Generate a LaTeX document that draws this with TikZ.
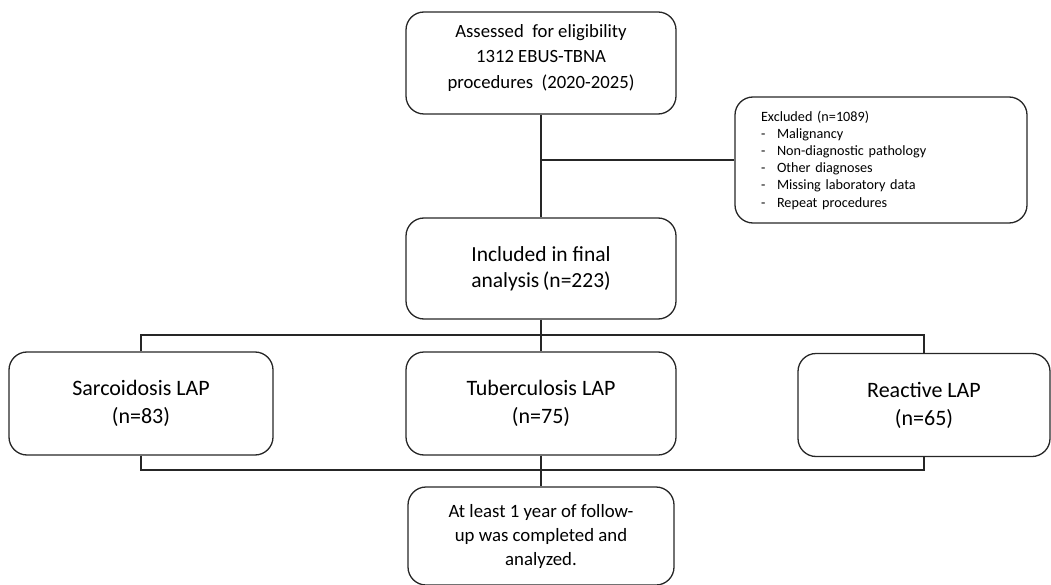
\documentclass[tikz,border=0pt]{standalone}
\usepackage{fontspec}
\setmainfont{Carlito}
\usepackage{tikz}
\usetikzlibrary{positioning}
\newcommand{\boxcolor}{black!85}
\newcommand{\dashitem}[1]{\makebox[16pt][l]{-}#1}

\begin{document}
\begin{tikzpicture}[
      % GLOBAL CFG
      x=1pt, y=-1pt,
      % Styles
      stage/.style={% For the flow boxes
        rectangle,
        rounded corners=18pt,
        draw=\boxcolor,
        line width=1.3pt,
        align=center,
        inner sep=2pt
      },
      excl/.style={% For the excluded list
        rectangle,
        rounded corners=18pt,
        draw=\boxcolor,
        line width=1.3pt,
        align=left,
        text width=240pt,
        inner xsep=26pt,
        font=\fontsize{14.2}{17.2}\selectfont
      },
      link/.style={% Plain connectors
        line width=1.3pt,
        draw=\boxcolor
      }
      ]

      \useasboundingbox (0,0) rectangle (1051,585);

      % Top of the chart
      \node [stage, minimum width=270pt, minimum height=102pt, text depth=13pt,
        font=\fontsize{18.7}{25.5}\selectfont] (assessed) at (541,63)
        {Assessed\ \ for eligibility\\1312 EBUS-TBNA\\procedures\ \ (2020-2025)};
      \node [excl, minimum height=126pt] (excluded) at (881,160)
        {Excluded (n=1089)\\\dashitem{Malignancy}\\\dashitem{Non-diagnostic pathology}\\
         \dashitem{Other diagnoses}\\\dashitem{Missing laboratory data}\\\dashitem{Repeat procedures}};
      \node [stage, minimum width=270pt, minimum height=101pt,
        font=\fontsize{21.5}{26}\selectfont] (included) at (541,268.5)
        {Included in final\\analysis\,(n=223)};

      % The three groups
      \node [stage, minimum width=264pt, minimum height=103pt,
        font=\fontsize{22}{28}\selectfont] (sarcoid) at (141,403.5)
        {Sarcoidosis LAP\\(n=83)};
      \node [stage, minimum width=270pt, minimum height=103pt,
        font=\fontsize{22}{28}\selectfont] (tuber) at (541,403.5)
        {Tuberculosis LAP\\(n=75)};
      \node [stage, minimum width=252pt, minimum height=103pt,
        font=\fontsize{22}{28}\selectfont] (reactive) at (924,405)
        {Reactive LAP\\(n=65)};

      % Follow-up
      \node [stage, minimum width=266pt, minimum height=98pt,
        font=\fontsize{18.8}{24}\selectfont] (followup) at (541,536)
        {At least 1 year of follow-\\up was completed and\\analyzed.};

      \coordinate (split) at (541,335);
      \coordinate (merge) at (541,470);

      % Connectors
      \draw [link] (assessed) -- (included);
      \draw [link] (assessed.south |- excluded.west) -- (excluded.west);
      \draw [link] (included) -- (tuber);
      \draw [link] (sarcoid.north) -- (sarcoid.north |- split) -- (reactive.north |- split) -- (reactive.north);
      \draw [link] (sarcoid.south) -- (sarcoid.south |- merge) -- (reactive.south |- merge) -- (reactive.south);
      \draw [link] (tuber) -- (followup);

    \end{tikzpicture}
\end{document}
